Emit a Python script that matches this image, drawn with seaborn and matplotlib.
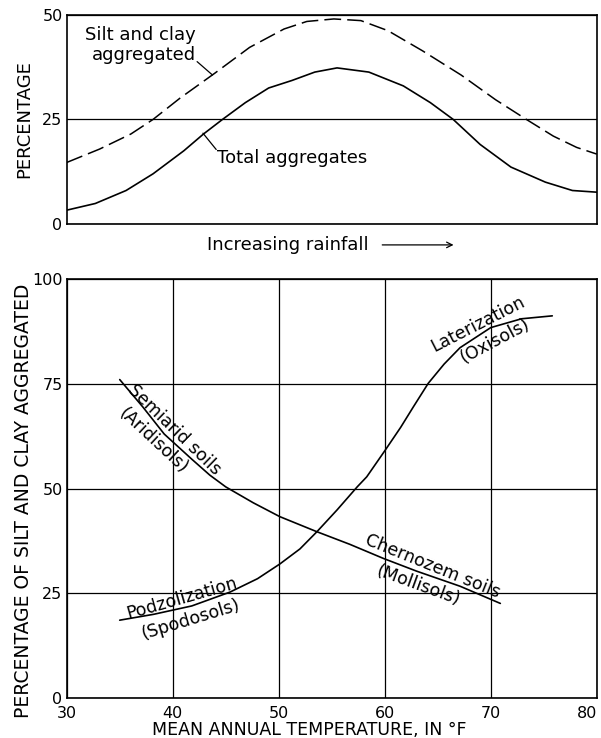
import matplotlib
matplotlib.use("Agg")
import matplotlib.pyplot as plt
import seaborn as sns
import numpy as np

# Top panel: position along the rainfall gradient (0 = dry, 100 = wet) vs percentage
rain_pos_total = [0, 5.4, 11.2, 16.3, 22.1, 25.8, 29.4, 33.7, 38.1, 42.5, 46.8, 51.0,
                  57.0, 63.5, 68.6, 72.9, 78.0, 83.8, 90.3, 95.4, 100]
total_aggregates = [3.3, 4.9, 8.0, 12.0, 17.5, 21.5, 25.0, 29.0, 32.5, 34.3, 36.3, 37.3,
                    36.3, 33.0, 29.0, 25.0, 19.0, 13.6, 10.0, 8.0, 7.6]
rain_pos_silt = [0, 6.2, 12.1, 16.3, 21.4, 27.9, 34.5, 41.0, 45.3, 50.4, 55.5, 60.6,
                 67.1, 74.4, 80.9, 86.7, 91.8, 96.2, 100]
silt_clay_aggregated = [14.7, 17.9, 21.5, 25.0, 30.1, 36.0, 42.2, 46.6, 48.4, 49.0, 48.6,
                        46.2, 41.4, 35.6, 29.7, 25.0, 21.0, 18.3, 16.7]

# Bottom panel: mean annual temperature (F) vs percentage of silt and clay aggregated
temp_semiarid = [35.0, 37.2, 39.2, 41.8, 43.5, 45.0, 47.6, 50.1, 53.6, 56.7, 59.9, 63.0,
                 67.1, 70.9]
pct_semiarid = [76.0, 69.4, 63.0, 57.0, 53.2, 50.4, 46.6, 43.3, 39.7, 36.7, 33.3, 30.3,
                26.7, 22.6]
temp_later = [35.0, 38.2, 41.8, 45.4, 48.0, 50.1, 52.0, 53.6, 55.5, 57.4, 58.3, 60.0,
              61.5, 62.7, 64.1, 65.6, 67.1, 70.0, 72.9, 75.8]
pct_later = [18.6, 20.0, 22.0, 25.3, 28.5, 32.0, 35.6, 39.7, 44.9, 50.4, 52.8, 59.0,
             64.6, 69.5, 75.1, 79.7, 83.6, 88.4, 90.5, 91.2]

top_yticks = [0, 25, 50]
bottom_xticks = [30, 40, 50, 60, 70, 80]
bottom_yticks = [0, 25, 50, 75, 100]

sns.set_style("white")
plt.rcParams['font.family'] = ['DejaVu Sans']
plt.rcParams['text.color'] = 'black'
plt.rcParams['axes.labelcolor'] = 'black'
plt.rcParams['xtick.color'] = 'black'
plt.rcParams['ytick.color'] = 'black'

fig = plt.figure(figsize=(6.01, 7.38), dpi=100)
ax1 = fig.add_axes([0.111, 0.6965, 0.882, 0.2835])
ax2 = fig.add_axes([0.111, 0.054, 0.882, 0.568])

# ---- top panel
sns.lineplot(x=rain_pos_total, y=total_aggregates, ax=ax1, color='black', lw=1.2)
sns.lineplot(x=rain_pos_silt, y=silt_clay_aggregated, ax=ax1, color='black', lw=1.1)
ax1.lines[-1].set_dashes((11, 4))
ax1.set_xlim(0, 100)
ax1.set_ylim(0, 50)
ax1.set_xticks([])
ax1.set_yticks(top_yticks)
ax1.yaxis.grid(True, color='black', lw=0.9)
ax1.set_ylabel('PERCENTAGE', fontsize=13)
ax1.yaxis.set_label_coords(-0.064, 0.5)

ax1.text(24.3, 42.8, 'Silt and clay\naggregated', ha='right', va='center',
         fontsize=13, linespacing=1.15)
ax1.annotate('', xy=(27.5, 35.6), xytext=(24.6, 38.8),
             arrowprops=dict(arrowstyle='-', lw=0.9, color='black', shrinkA=0, shrinkB=0))
ax1.text(28.3, 15.8, 'Total aggregates', ha='left', va='center', fontsize=13)
ax1.annotate('', xy=(25.7, 21.7), xytext=(28.2, 17.8),
             arrowprops=dict(arrowstyle='-', lw=0.9, color='black', shrinkA=0, shrinkB=0))

ax1.text(0.264, -0.1, 'Increasing rainfall', transform=ax1.transAxes,
         ha='left', va='center', fontsize=13)
ax1.annotate('', xy=(0.735, -0.1), xytext=(0.59, -0.1), xycoords='axes fraction',
             arrowprops=dict(arrowstyle='->', lw=0.9, color='black'))

# ---- bottom panel
sns.lineplot(x=temp_semiarid, y=pct_semiarid, ax=ax2, color='black', lw=1.2)
sns.lineplot(x=temp_later, y=pct_later, ax=ax2, color='black', lw=1.2)
ax2.set_xlim(30, 80)
ax2.set_ylim(0, 100)
ax2.set_xticks(bottom_xticks)
ax2.set_yticks(bottom_yticks)
ax2.grid(True, color='black', lw=0.9)
ax2.set_ylabel('PERCENTAGE OF SILT AND CLAY AGGREGATED', fontsize=13.5)
ax2.yaxis.set_label_coords(-0.064, 0.47)
ax2.set_xlabel('MEAN ANNUAL TEMPERATURE, IN \u00b0F', fontsize=12.5)
ax2.xaxis.set_label_coords(0.458, -0.055)


def curve_label(ax, temps, pcts, t, text, rot, side, d):
    # put a rotated label just above (side=1) or below (side=-1) a curve
    p = np.interp(t, temps, pcts)
    th = np.deg2rad(rot)
    ax.annotate(text, xy=(t, p), xytext=(-np.sin(th) * d * side, np.cos(th) * d * side),
                textcoords='offset points', rotation=rot, rotation_mode='anchor',
                ha='center', va='baseline' if side > 0 else 'top', fontsize=12.5)


curve_label(ax2, temp_semiarid, pct_semiarid, 39.5, 'Semiarid soils', -44, 1, 3.5)
curve_label(ax2, temp_semiarid, pct_semiarid, 39.0, '(Aridisols)', -43, -1, 3)
curve_label(ax2, temp_semiarid, pct_semiarid, 64.2, 'Chernozem soils', -22, 1, 3.5)
curve_label(ax2, temp_semiarid, pct_semiarid, 63.6, '(Mollisols)', -20, -1, 3)
curve_label(ax2, temp_later, pct_later, 41.1, 'Podzolization', 16, 1, 3.5)
curve_label(ax2, temp_later, pct_later, 41.3, '(Spodosols)', 17, -1, 3)
curve_label(ax2, temp_later, pct_later, 69.2, 'Laterization', 27, 1, 3.5)
curve_label(ax2, temp_later, pct_later, 69.8, '(Oxisols)', 28, -1, 3)

for ax in (ax1, ax2):
    for s in ax.spines.values():
        s.set_color('black')
        s.set_linewidth(1.2)
    ax.tick_params(length=0, pad=3, labelsize=11.5, colors='black')
ax2.tick_params(axis='x', pad=5.5)

ax2.get_xticklabels()[-1].set_ha('right')

fig.savefig('out.png', dpi=100)
